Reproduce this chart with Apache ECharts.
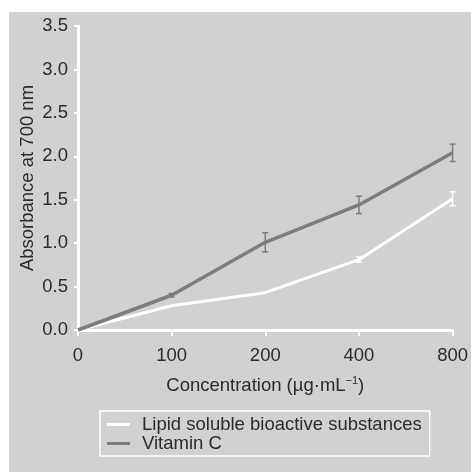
<!DOCTYPE html>
<html>
<head>
<meta charset="utf-8">
<script src="https://cdn.jsdelivr.net/npm/echarts@6/dist/echarts.min.js"></script>
<style>
  html, body { margin: 0; padding: 0; background: #fff; }
  #chart { width: 471px; height: 472px; }
</style>
</head>
<body>
<div id="chart"></div>
<script>
const categories = ['0', '100', '200', '400', '800']
const lipid = [0, 0.28, 0.43, 0.81, 1.51]
const lipidErr = [0, 0, 0, 0.03, 0.08]
const vitC = [0, 0.40, 1.01, 1.44, 2.04]
const vitCErr = [0, 0.02, 0.11, 0.10, 0.10]

const textColor = '#2b2b2b'
const grayLine = '#7d7d7d'
const fs = 18.5

function errData(vals, errs) {
  return vals.map((v, i) => [i, v - errs[i], v + errs[i]]).filter((d, i) => errs[i] > 0)
}

function errSeries(name, vals, errs, color) {
  return {
    name: name, type: 'custom', z: 5,
    data: errData(vals, errs),
    renderItem: function (params, api) {
      const lo = api.coord([api.value(0), api.value(1)])
      const hi = api.coord([api.value(0), api.value(2)])
      const w = 3
      const st = { stroke: color, lineWidth: 1.5 }
      return {
        type: 'group',
        children: [
          { type: 'line', shape: { x1: lo[0], y1: lo[1], x2: hi[0], y2: hi[1] }, style: st },
          { type: 'line', shape: { x1: lo[0] - w, y1: lo[1], x2: lo[0] + w, y2: lo[1] }, style: st },
          { type: 'line', shape: { x1: hi[0] - w, y1: hi[1], x2: hi[0] + w, y2: hi[1] }, style: st }
        ]
      }
    }
  }
}

const chart = echarts.init(document.getElementById('chart'))
const option = {
  animation: false,
  textStyle: { fontFamily: 'Liberation Sans, Arial, sans-serif' },
  graphic: [{
    type: 'rect', z: -10, silent: true,
    shape: { x: 9, y: 12, width: 462, height: 460 },
    style: { fill: '#d0d1d3' }
  }],
  grid: { left: 78, right: 16, top: 26, bottom: 142, containLabel: false },
  legend: {
    orient: 'vertical', left: 100, top: 411,
    padding: [4, 8, 3, 7],
    borderColor: '#ffffff', borderWidth: 1.5,
    itemWidth: 23, itemHeight: 3, itemGap: 0,
    textStyle: { fontSize: fs, color: textColor, padding: [0, 0, 0, 7] },
    data: [
      { name: 'Lipid soluble bioactive substances', icon: 'rect', itemStyle: { color: '#ffffff' } },
      { name: 'Vitamin C', icon: 'rect', itemStyle: { color: grayLine } }
    ]
  },
  xAxis: {
    type: 'category', data: categories, boundaryGap: false,
    name: 'Concentration (µg·mL{sup|−1})',
    nameLocation: 'middle', nameGap: 45,
    nameTextStyle: {
      fontSize: fs, color: textColor,
      rich: { sup: { fontSize: 11, verticalAlign: 'top', padding: [0, 0, 10, 0], color: textColor } }
    },
    axisLine: { lineStyle: { color: '#ffffff', width: 3 } },
    axisTick: { show: true, length: 6, alignWithLabel: true, lineStyle: { color: '#ffffff', width: 2 } },
    axisLabel: { fontSize: fs, color: textColor, margin: 16 },
    splitLine: { show: false }
  },
  yAxis: {
    type: 'value', min: 0, max: 3.5, interval: 0.5,
    name: 'Absorbance at 700 nm',
    nameLocation: 'middle', nameGap: 41, nameMoveOverlap: false,
    nameTextStyle: { fontSize: fs, color: textColor },
    axisLine: { show: true, lineStyle: { color: '#ffffff', width: 3 } },
    axisTick: { show: true, length: 4, lineStyle: { color: '#ffffff', width: 2 } },
    axisLabel: { fontSize: fs, color: textColor, margin: 10, formatter: v => v.toFixed(1) },
    splitLine: { show: false }
  },
  series: [
    {
      name: 'Lipid soluble bioactive substances', type: 'line', data: lipid,
      symbol: 'none', z: 3,
      lineStyle: { color: '#ffffff', width: 3 },
      itemStyle: { color: '#ffffff' }
    },
    {
      name: 'Vitamin C', type: 'line', data: vitC,
      symbol: 'none', z: 4,
      lineStyle: { color: grayLine, width: 3.5 },
      itemStyle: { color: grayLine }
    },
    errSeries('Lipid soluble bioactive substances', lipid, lipidErr, '#ffffff'),
    errSeries('Vitamin C', vitC, vitCErr, grayLine)
  ]
}
chart.setOption(option)
</script>
</body>
</html>
